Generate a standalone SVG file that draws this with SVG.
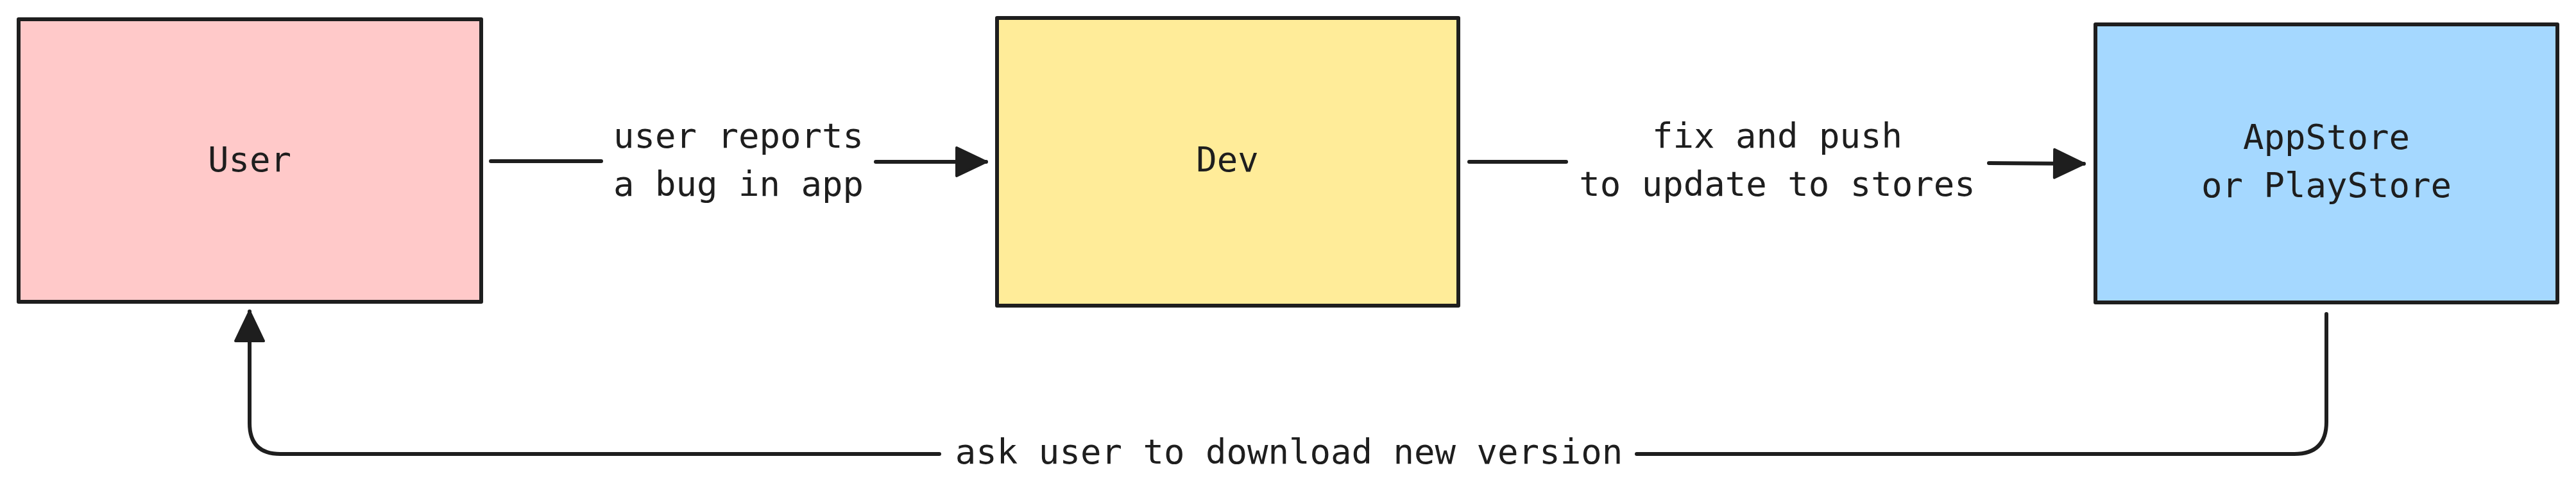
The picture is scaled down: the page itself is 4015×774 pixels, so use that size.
<svg xmlns="http://www.w3.org/2000/svg" width="4015" height="774" viewBox="0 0 4015 774">
<style>
.box{stroke:#1e1e1e;stroke-width:6;stroke-linejoin:round}
.line{fill:none;stroke:#1e1e1e;stroke-width:6;stroke-linecap:round;stroke-linejoin:round}
.t{font-family:"DejaVu Sans Mono","Liberation Mono",monospace;font-size:54px;fill:#1e1e1e;text-anchor:middle}
</style>
<defs>
<marker id="ah" markerUnits="userSpaceOnUse" markerWidth="60" markerHeight="60" viewBox="-5 -5 60 60" refX="46" refY="22" orient="auto">
<path d="M0 0 L46 22 L0 44 Z" fill="#1e1e1e" stroke="#1e1e1e" stroke-width="4" stroke-linejoin="round"/>
</marker>
</defs>
<rect width="4015" height="774" fill="#ffffff"/>
<g id="connectors">
<g id="c-user-dev">
<path class="line" d="M765 251 L937 251"/>
<path class="line" d="M1365 252 L1537 252" marker-end="url(#ah)"/>
<text class="t" x="1151" y="230">user reports</text>
<text class="t" x="1151" y="305">a bug in app</text>
</g>
<g id="c-dev-store">
<path class="line" d="M2290 252 L2441 252"/>
<path class="line" d="M3100 254 L3248 255" marker-end="url(#ah)"/>
<text class="t" x="2770" y="230">fix and push</text>
<text class="t" x="2770" y="305">to update to stores</text>
</g>
<g id="c-store-user">
<path class="line" d="M3626 489 L3626 657 Q3626 707 3576 707 L2551 707"/>
<path class="line" d="M1464 707 L437 707 Q389 707 389 659 L389 485" marker-end="url(#ah)"/>
<text class="t" x="2009" y="722">ask user to download new version</text>
</g>
</g>
<g id="node-user">
<rect class="box" x="29" y="30" width="721" height="440" fill="#ffc9c9"/>
<text class="t" x="389" y="267">User</text>
</g>
<g id="node-dev">
<rect class="box" x="1554" y="28" width="719" height="448" fill="#ffec99"/>
<text class="t" x="1913" y="267">Dev</text>
</g>
<g id="node-store">
<rect class="box" x="3266" y="38" width="720" height="433" fill="#a5d8ff"/>
<text class="t" x="3626" y="232">AppStore</text>
<text class="t" x="3626" y="307">or PlayStore</text>
</g>
</svg>
